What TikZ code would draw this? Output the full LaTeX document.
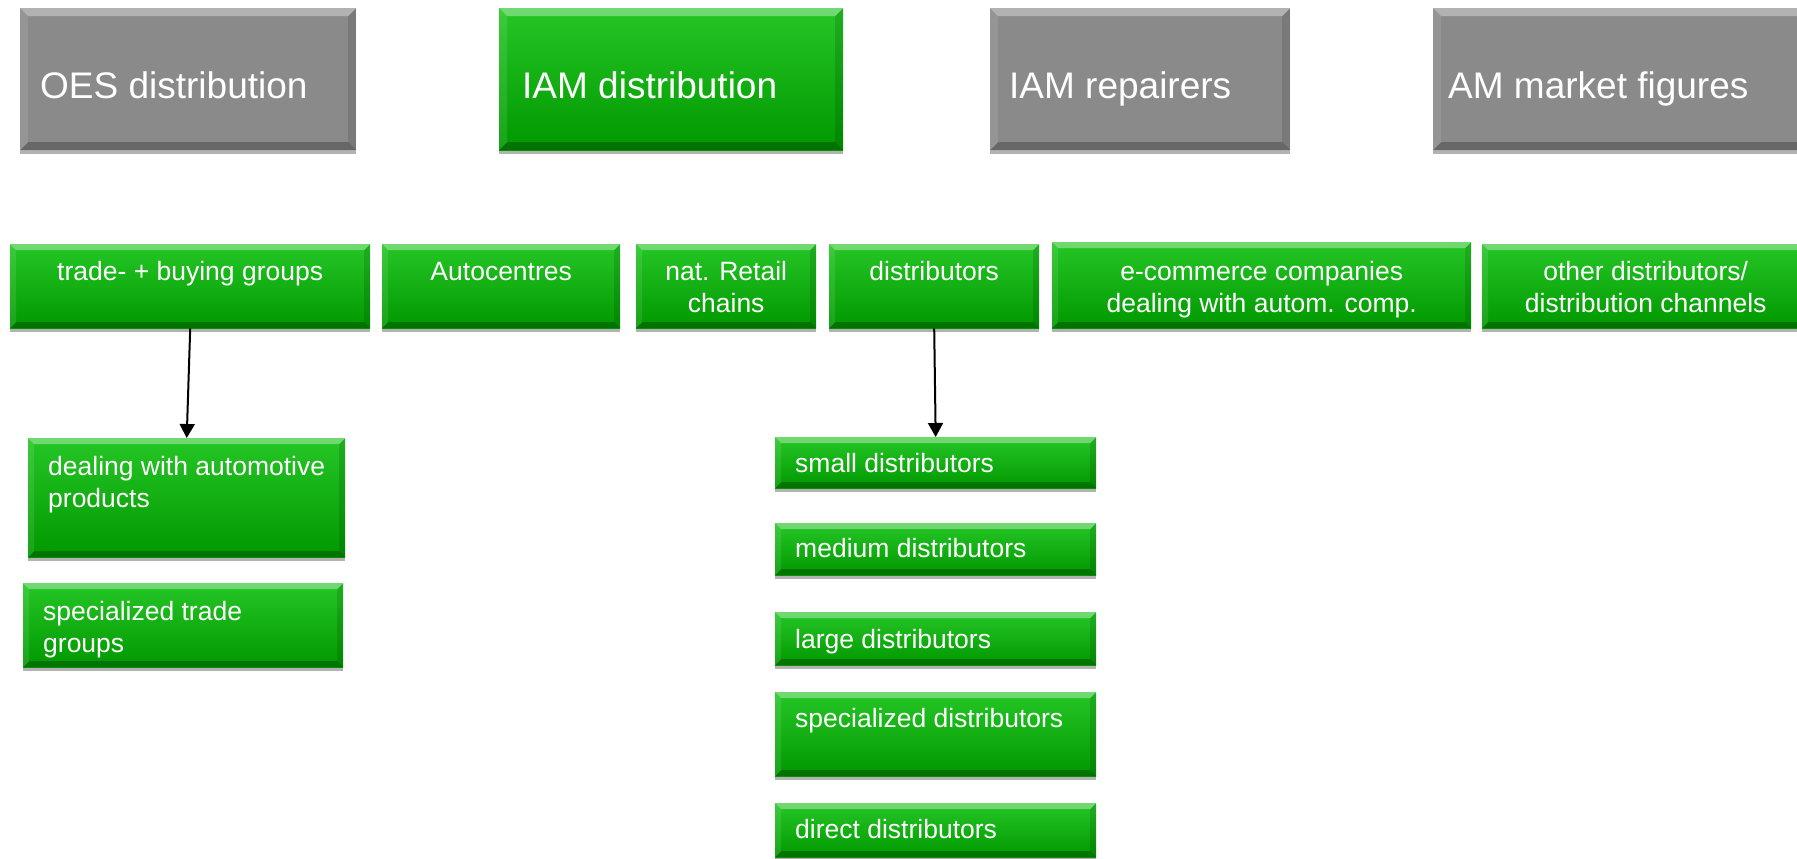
\documentclass[tikz,border=0pt]{standalone}
\usepackage{fontspec}
\setmainfont{Liberation Sans}
\usetikzlibrary{shadows,arrows.meta}
\definecolor{gtop}{RGB}{38,198,38}
\definecolor{gbot}{RGB}{0,152,0}
\definecolor{grayfill}{RGB}{138,138,138}
\newcommand{\bxc}[5]{\parbox[c][#2pt][t]{#1pt}{\vspace*{\dimexpr#3pt-\ht\strutbox\relax}#4\strut #5}}
\newcommand{\bevelpic}[1]{%
  \fill[white,opacity=.35] (path picture bounding box.north west) -- (path picture bounding box.north east) -- ([shift={(-#1,-#1)}]path picture bounding box.north east) -- ([shift={(#1,-#1)}]path picture bounding box.north west) -- cycle;
  \fill[black,opacity=.25] (path picture bounding box.south west) -- (path picture bounding box.south east) -- ([shift={(-#1,#1)}]path picture bounding box.south east) -- ([shift={(#1,#1)}]path picture bounding box.south west) -- cycle;
  \fill[black,opacity=.12] (path picture bounding box.north east) -- ([shift={(-#1,-#1)}]path picture bounding box.north east) -- ([shift={(-#1,#1)}]path picture bounding box.south east) -- (path picture bounding box.south east) -- cycle;
  \fill[white,opacity=.10] (path picture bounding box.north west) -- ([shift={(#1,-#1)}]path picture bounding box.north west) -- ([shift={(#1,#1)}]path picture bounding box.south west) -- (path picture bounding box.south west) -- cycle;
}
\tikzset{
  bevbox/.style={inner sep=0pt, anchor=north west, text=white,
    drop shadow={shadow xshift=0pt, shadow yshift=-4pt, opacity=.3, fill=black}},
  gbox/.style={bevbox, top color=gtop, bottom color=gbot, path picture={\bevelpic{6pt}}},
  gboxtop/.style={bevbox, top color=gtop, bottom color=gbot, path picture={\bevelpic{8pt}}},
  greybox/.style={bevbox, fill=grayfill, path picture={\bevelpic{8pt}}},
  tfont/.style={font=\fontsize{37}{44}\selectfont},
  sfont/.style={font=\fontsize{26.5}{32}\selectfont},
  arr/.style={line width=2pt, -{Triangle[width=15pt,length=14pt]}}
}
\begin{document}
\begin{tikzpicture}[x=1pt,y=-1pt]
\clip (0,0) rectangle (1797,859);
% top row
\node[greybox, tfont] (oes) at (20,8) {\bxc{336}{142}{90}{\raggedright\leftskip=20pt\relax}{OES distribution}};
\node[gboxtop, tfont] (iamd) at (499,8) {\bxc{344}{142}{90}{\raggedright\leftskip=23pt\relax}{IAM distribution}};
\node[greybox, tfont] (iamr) at (990,8) {\bxc{300}{142}{90}{\raggedright\leftskip=19pt\relax}{IAM repairers}};
\node[greybox, tfont] (amf) at (1433,8) {\bxc{377}{142}{90}{\raggedright\leftskip=15pt\relax}{AM market figures}};
% second row
\node[gbox, sfont] (trade) at (10,244) {\bxc{360}{84}{36}{\centering}{trade- + buying groups}};
\node[gbox, sfont] (auto) at (382,244) {\bxc{238}{84}{36}{\centering}{Autocentres}};
\node[gbox, sfont] (retail) at (636,244) {\bxc{180}{84}{36}{\centering}{nat. Retail\\chains}};
\node[gbox, sfont] (dist) at (829,244) {\bxc{210}{84}{36}{\centering}{distributors}};
\node[gbox, sfont] (ecom) at (1052,242) {\bxc{419}{86}{38}{\centering}{e-commerce companies\\dealing with autom. comp.}};
\node[gbox, sfont] (other) at (1482,244) {\bxc{327}{84}{36}{\centering}{other distributors/\\distribution channels}};
% left column
\node[gbox, sfont] (deal) at (28,438) {\bxc{317}{119}{37}{\raggedright\leftskip=20pt\relax}{dealing with automotive\\products}};
\node[gbox, sfont] (spec) at (23,583) {\bxc{320}{84}{37}{\raggedright\leftskip=20pt\relax}{specialized trade\\groups}};
% right column
\node[gbox, sfont] (small) at (775,437) {\bxc{321}{51}{35}{\raggedright\leftskip=20pt\relax}{small distributors}};
\node[gbox, sfont] (medium) at (775,523) {\bxc{321}{52}{34}{\raggedright\leftskip=20pt\relax}{medium distributors}};
\node[gbox, sfont] (large) at (775,612) {\bxc{321}{53}{36}{\raggedright\leftskip=20pt\relax}{large distributors}};
\node[gbox, sfont] (specd) at (775,692) {\bxc{321}{84}{35}{\raggedright\leftskip=20pt\relax}{specialized distributors}};
\node[gbox, sfont] (direct) at (775,803) {\bxc{321}{54}{35}{\raggedright\leftskip=20pt\relax}{direct distributors}};
% arrows
\draw[arr] (trade.south) -- (deal.north);
\draw[arr] (dist.south) -- (small.north);
\end{tikzpicture}
\end{document}
